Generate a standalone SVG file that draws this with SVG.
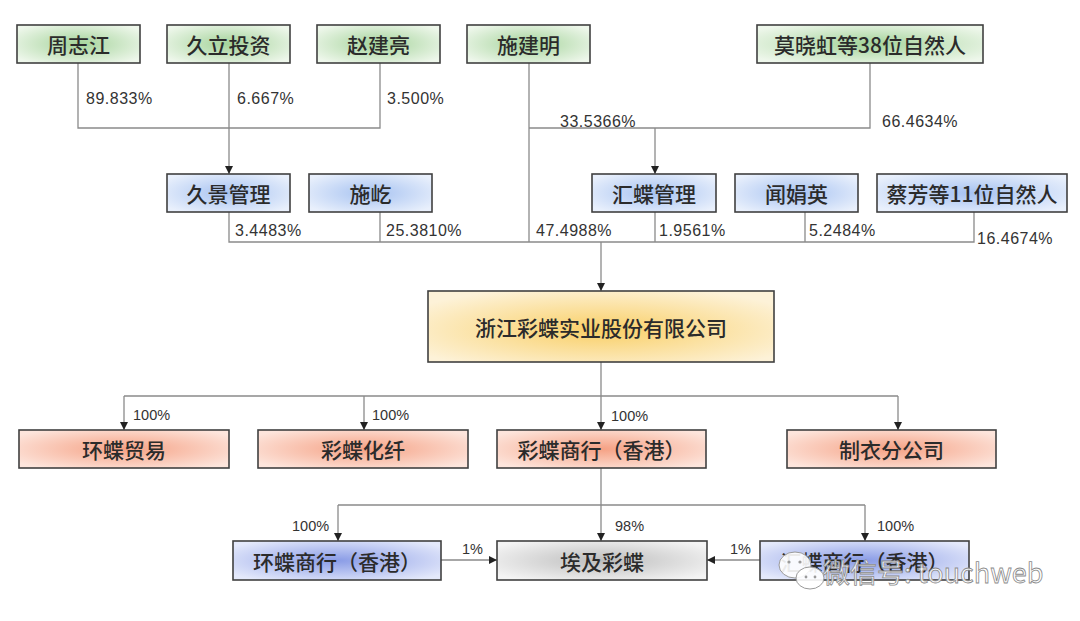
<svg xmlns="http://www.w3.org/2000/svg" width="1080" height="621" viewBox="0 0 1080 621">
<defs>
<radialGradient id="gGreen" cx="0.5" cy="0.5" r="0.62"><stop offset="0" stop-color="#a4d39a"/><stop offset="1" stop-color="#eef7eb"/></radialGradient>
<radialGradient id="gBlue" cx="0.5" cy="0.5" r="0.62"><stop offset="0" stop-color="#a6c2f1"/><stop offset="1" stop-color="#e9f0fc"/></radialGradient>
<radialGradient id="gYellow" cx="0.5" cy="0.55" r="0.62"><stop offset="0" stop-color="#f9cf66"/><stop offset="1" stop-color="#fdf2d8"/></radialGradient>
<radialGradient id="gOrange" cx="0.5" cy="0.5" r="0.62"><stop offset="0" stop-color="#f5a184"/><stop offset="1" stop-color="#fde5dc"/></radialGradient>
<radialGradient id="gViolet" cx="0.5" cy="0.5" r="0.62"><stop offset="0" stop-color="#8a9ce6"/><stop offset="1" stop-color="#e4e9fb"/></radialGradient>
<radialGradient id="gGray" cx="0.5" cy="0.5" r="0.62"><stop offset="0" stop-color="#bdbdbd"/><stop offset="1" stop-color="#f4f4f4"/></radialGradient>
<marker id="arr" viewBox="0 0 8 8" refX="8" refY="4" markerWidth="8" markerHeight="8" markerUnits="userSpaceOnUse" orient="auto"><path d="M0,0 L8,4 L0,8 z" fill="#222"/></marker>
<style>
.box{stroke:#404040;stroke-width:1.6}
.green{fill:url(#gGreen)}
.blue{fill:url(#gBlue)}
.yellow{fill:url(#gYellow)}
.orange{fill:url(#gOrange)}
.violet{fill:url(#gViolet)}
.gray{fill:url(#gGray)}
.lbl{font-family:"Noto Sans CJK SC","Liberation Sans",sans-serif;font-size:21px;font-weight:500;fill:#2b2b2b;text-anchor:middle;dominant-baseline:central}
.pct{font-family:"Liberation Sans","Noto Sans CJK SC",sans-serif;font-size:16px;fill:#333;letter-spacing:0.5px;dominant-baseline:central}
.pct2{font-family:"Liberation Sans","Noto Sans CJK SC",sans-serif;font-size:14.5px;fill:#333;dominant-baseline:central}
.ln{fill:none;stroke:#8a8a8a;stroke-width:1.3}
.ar{fill:none;stroke:#8a8a8a;stroke-width:1.3;marker-end:url(#arr)}
.wm{font-family:"Noto Sans CJK SC","Liberation Sans",sans-serif;font-size:27px;fill:#ffffff;fill-opacity:0.85;stroke:#8a8a8a;stroke-width:0.8}
</style>
</defs>
<rect width="1080" height="621" fill="#ffffff"/>

<g id="connectors">
<path class="ln" d="M78,63 V128 H380 V63"/>
<path class="ar" d="M229,63 V174"/>
<path class="ln" d="M529,63 V242"/>
<path class="ln" d="M870,63 V128 H529"/>
<path class="ar" d="M655,128 V174"/>
<path class="ln" d="M229,212 V242 H974 V212"/>
<path class="ln" d="M380,212 V242 M655,212 V242 M805,212 V242"/>
<path class="ar" d="M601,242 V291"/>
<path class="ln" d="M601,362 V396 M124,396 H898"/>
<path class="ar" d="M124,396 V430"/>
<path class="ar" d="M364,396 V430"/>
<path class="ar" d="M601,396 V430"/>
<path class="ar" d="M898,396 V430"/>
<path class="ar" d="M601,468 V541"/>
<path class="ln" d="M338,505 H865"/>
<path class="ar" d="M338,505 V541"/>
<path class="ar" d="M865,505 V541"/>
<path class="ar" d="M441,560 H497"/>
<path class="ar" d="M760,560 H707"/>
</g>

<g id="labels">
<text class="pct" x="86" y="98">89.833%</text>
<text class="pct" x="237" y="98">6.667%</text>
<text class="pct" x="387" y="98">3.500%</text>
<text class="pct" x="560" y="121">33.5366%</text>
<text class="pct" x="882" y="121">66.4634%</text>
<text class="pct" x="235" y="230">3.4483%</text>
<text class="pct" x="386" y="230">25.3810%</text>
<text class="pct" x="536" y="230">47.4988%</text>
<text class="pct" x="659" y="230">1.9561%</text>
<text class="pct" x="809" y="230">5.2484%</text>
<text class="pct" x="977" y="238">16.4674%</text>
<text class="pct2" x="133" y="415">100%</text>
<text class="pct2" x="372" y="415">100%</text>
<text class="pct2" x="611" y="416">100%</text>
<text class="pct2" x="292" y="526">100%</text>
<text class="pct2" x="615" y="526">98%</text>
<text class="pct2" x="877" y="526">100%</text>
<text class="pct2" x="462" y="549">1%</text>
<text class="pct2" x="730" y="549">1%</text>
</g>

<g id="n-zhouzhijiang"><rect class="box green" x="17" y="25" width="123" height="38"/><text class="lbl" x="78.5" y="44">周志江</text></g>
<g id="n-jiuli"><rect class="box green" x="167" y="25" width="123" height="38"/><text class="lbl" x="228.5" y="44">久立投资</text></g>
<g id="n-zhaojianliang"><rect class="box green" x="317" y="25" width="123" height="38"/><text class="lbl" x="378.5" y="44">赵建亮</text></g>
<g id="n-shijianming"><rect class="box green" x="467" y="25" width="123" height="38"/><text class="lbl" x="528.5" y="44">施建明</text></g>
<g id="n-moxiaohong"><rect class="box green" x="757" y="25" width="226" height="38"/><text class="lbl" x="870" y="44">莫晓虹等38位自然人</text></g>

<g id="n-jiujing"><rect class="box blue" x="167" y="174" width="123" height="38"/><text class="lbl" x="228.5" y="193">久景管理</text></g>
<g id="n-shiyi"><rect class="box blue" x="309" y="174" width="123" height="38"/><text class="lbl" x="370.5" y="193">施屹</text></g>
<g id="n-huidie"><rect class="box blue" x="592" y="174" width="124" height="38"/><text class="lbl" x="654" y="193">汇蝶管理</text></g>
<g id="n-wenjuanying"><rect class="box blue" x="735" y="174" width="123" height="38"/><text class="lbl" x="796.5" y="193">闻娟英</text></g>
<g id="n-caifang"><rect class="box blue" x="877" y="174" width="190" height="38"/><text class="lbl" x="972" y="193">蔡芳等11位自然人</text></g>

<g id="n-zhejiang"><rect class="box yellow" x="428" y="291" width="346" height="71"/><text class="lbl" x="601" y="327">浙江彩蝶实业股份有限公司</text></g>

<g id="n-huandiemaoyi"><rect class="box orange" x="19" y="430" width="210" height="38"/><text class="lbl" x="124" y="449">环蝶贸易</text></g>
<g id="n-caidiehuaxian"><rect class="box orange" x="258" y="430" width="210" height="38"/><text class="lbl" x="363" y="449">彩蝶化纤</text></g>
<g id="n-caidieshanghang"><rect class="box orange" x="497" y="430" width="209" height="38"/><text class="lbl" x="601.5" y="449">彩蝶商行（香港）</text></g>
<g id="n-zhiyi"><rect class="box orange" x="787" y="430" width="209" height="38"/><text class="lbl" x="891.5" y="449">制衣分公司</text></g>

<g id="n-huandieshanghang"><rect class="box violet" x="233" y="541" width="208" height="39"/><text class="lbl" x="337" y="560.5">环蝶商行（香港）</text></g>
<g id="n-aiji"><rect class="box gray" x="497" y="541" width="210" height="39"/><text class="lbl" x="602" y="560.5">埃及彩蝶</text></g>
<g id="n-right"><rect class="box violet" x="760" y="541" width="209" height="39"/><text class="lbl" x="864.5" y="560.5">汇蝶商行（香港）</text></g>

<g id="watermark">
<ellipse cx="795" cy="565" rx="16" ry="13" fill="#ffffff" fill-opacity="0.9" stroke="#9a9a9a" stroke-width="1"/>
<ellipse cx="810" cy="578" rx="14" ry="11" fill="#ffffff" fill-opacity="0.9" stroke="#9a9a9a" stroke-width="1"/>
<circle cx="789" cy="562" r="1.6" fill="#9a9a9a"/><circle cx="800" cy="562" r="1.6" fill="#9a9a9a"/>
<circle cx="806" cy="577" r="1.4" fill="#9a9a9a"/><circle cx="815" cy="577" r="1.4" fill="#9a9a9a"/>
<text class="wm" x="823" y="583">微信号: touchweb</text>
</g>
</svg>
